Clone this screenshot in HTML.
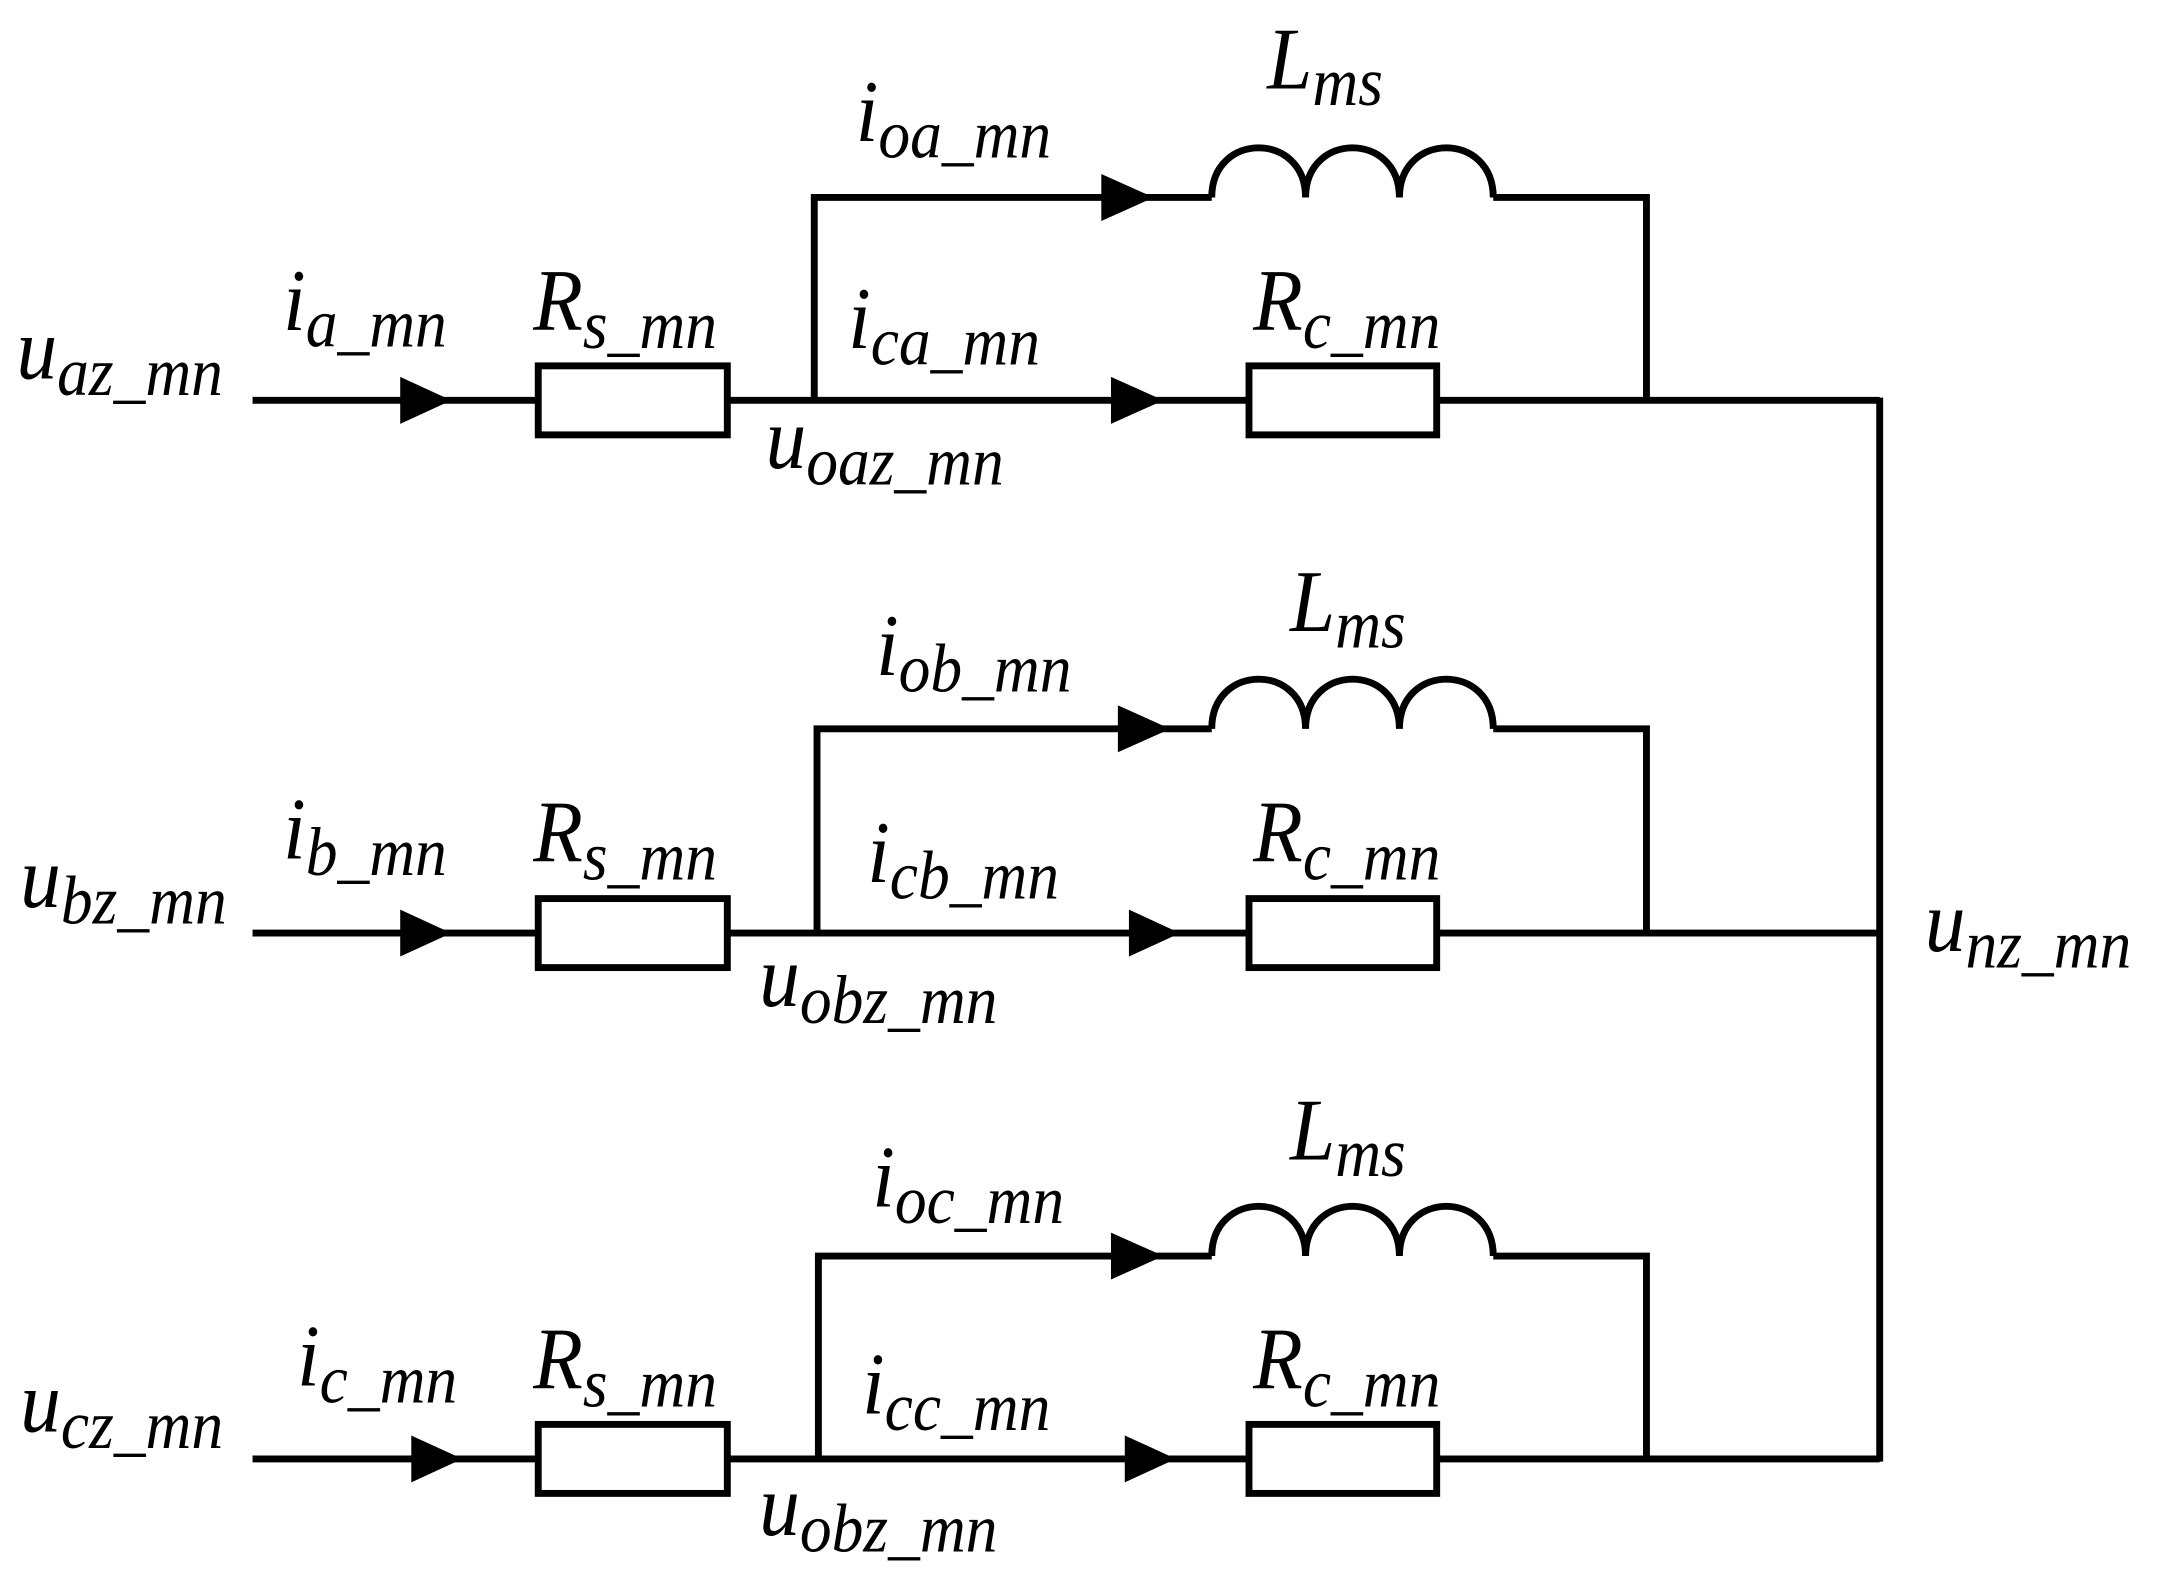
<!DOCTYPE html>
<html><head><meta charset="utf-8"><style>
html,body{margin:0;padding:0;background:#fff;}
svg{display:block;}
text{font-family:"Liberation Serif",serif;font-style:italic;font-size:64px;fill:#000;}
tspan.s{font-size:50px;}
</style></head><body>
<svg width="2164" height="1586" viewBox="0 0 1568 1149" xmlns="http://www.w3.org/2000/svg">
<g fill="none" stroke="#000" stroke-width="5" stroke-linecap="butt">
<path d="M183 290H390 M527 290H905 M1041 290H1362"/>
<rect x="390" y="265" width="137" height="50"/>
<rect x="905" y="265" width="136" height="50"/>
<path d="M590 290V143H878 M1082 143H1193V290"/>
<path d="M878 143 C878 95 946 95 946 143 C946 95 1014 95 1014 143 C1014 95 1082 95 1082 143"/>
<path d="M183 676H390 M527 676H905 M1041 676H1362"/>
<rect x="390" y="651" width="137" height="50"/>
<rect x="905" y="651" width="136" height="50"/>
<path d="M592 676V528H878 M1082 528H1193V676"/>
<path d="M878 528 C878 480 946 480 946 528 C946 480 1014 480 1014 528 C1014 480 1082 480 1082 528"/>
<path d="M183 1057H390 M527 1057H905 M1041 1057H1362"/>
<rect x="390" y="1032" width="137" height="50"/>
<rect x="905" y="1032" width="136" height="50"/>
<path d="M593 1057V910H878 M1082 910H1193V1057"/>
<path d="M878 910 C878 862 946 862 946 910 C946 862 1014 862 1014 910 C1014 862 1082 862 1082 910"/>
<path d="M1362 288V1059"/>
</g>
<g fill="#000">
<polygon points="290,273 327,290 290,307"/>
<polygon points="798,126 836,143 798,160"/>
<polygon points="805,273 843,290 805,307"/>
<polygon points="290,659 327,676 290,693"/>
<polygon points="810,511 848,528 810,545"/>
<polygon points="818,659 855,676 818,693"/>
<polygon points="298,1040 335,1057 298,1074"/>
<polygon points="805,893 843,910 805,927"/>
<polygon points="815,1040 852,1057 815,1074"/>
</g>
<g transform="scale(0.92,1)">
<text x="13" y="274">u<tspan class="s" dy="12">az_mn</tspan></text>
<text x="223" y="239">i<tspan class="s" dy="12">a_mn</tspan></text>
<text x="420" y="239">R<tspan class="s" dy="13">s_mn</tspan></text>
<text x="668" y="252">i<tspan class="s" dy="12">ca_mn</tspan></text>
<text x="987" y="239">R<tspan class="s" dy="13">c_mn</tspan></text>
<text x="603" y="339">u<tspan class="s" dy="12">oaz_mn</tspan></text>
<text x="674" y="102">i<tspan class="s" dy="12">oa_mn</tspan></text>
<text x="998" y="64">L<tspan class="s" dy="12">ms</tspan></text>
<text x="16" y="657">u<tspan class="s" dy="12">bz_mn</tspan></text>
<text x="223" y="622">i<tspan class="s" dy="12">b_mn</tspan></text>
<text x="420" y="624">R<tspan class="s" dy="13">s_mn</tspan></text>
<text x="683" y="639">i<tspan class="s" dy="12">cb_mn</tspan></text>
<text x="987" y="624">R<tspan class="s" dy="13">c_mn</tspan></text>
<text x="598" y="729">u<tspan class="s" dy="12">obz_mn</tspan></text>
<text x="690" y="489">i<tspan class="s" dy="12">ob_mn</tspan></text>
<text x="1016" y="457">L<tspan class="s" dy="12">ms</tspan></text>
<text x="1516" y="689">u<tspan class="s" dy="12">nz_mn</tspan></text>
<text x="16" y="1037">u<tspan class="s" dy="12">cz_mn</tspan></text>
<text x="234" y="1004">i<tspan class="s" dy="12">c_mn</tspan></text>
<text x="420" y="1006">R<tspan class="s" dy="13">s_mn</tspan></text>
<text x="679" y="1024">i<tspan class="s" dy="12">cc_mn</tspan></text>
<text x="987" y="1006">R<tspan class="s" dy="13">c_mn</tspan></text>
<text x="598" y="1112">u<tspan class="s" dy="12">obz_mn</tspan></text>
<text x="687" y="874">i<tspan class="s" dy="12">oc_mn</tspan></text>
<text x="1016" y="840">L<tspan class="s" dy="12">ms</tspan></text>
</g>
</svg>
</body></html>
